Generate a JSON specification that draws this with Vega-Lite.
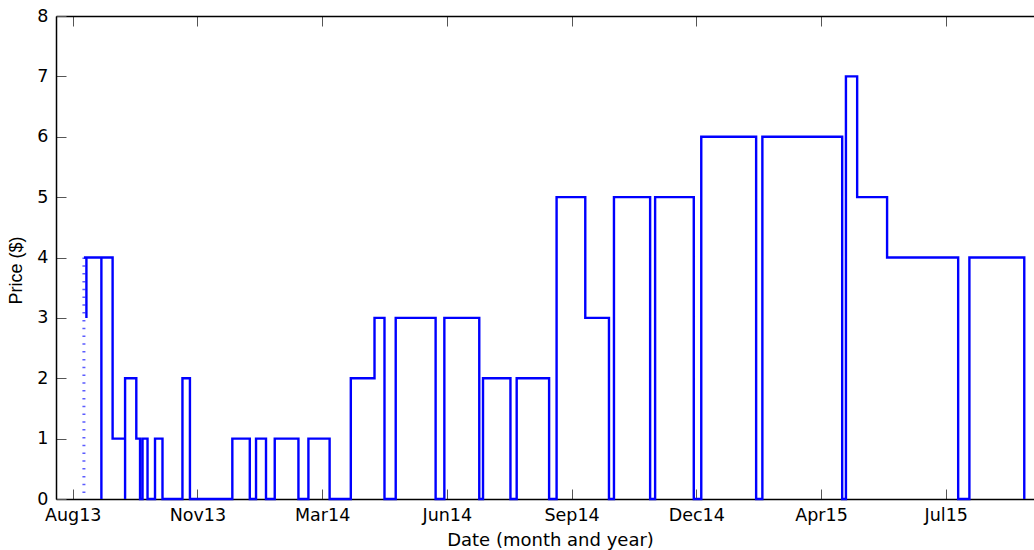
{
  "$schema": "https://vega.github.io/schema/vega-lite/v6.json",
  "width": 978,
  "height": 483,
  "autosize": {"type": "none"},
  "padding": {"left": 56, "top": 16, "right": 0, "bottom": 51},
  "background": "white",
  "config": {
    "view": {"stroke": null},
    "axis": {
      "grid": false,
      "domainColor": "#000000",
      "domainWidth": 1.5,
      "tickColor": "#555555",
      "tickWidth": 1,
      "tickSize": -10,
      "labelColor": "#000000",
      "labelFont": "DejaVu Sans",
      "labelFontSize": 17.5,
      "titleColor": "#000000",
      "titleFontWeight": "normal"
    }
  },
  "data": {
    "values": [
      {"series": "dotted", "date": "2013-08-25", "price": 4},
      {"series": "dotted", "date": "2013-08-25", "price": 0.1},
      {"series": "main", "date": "2013-08-25", "price": 4},
      {"series": "main", "date": "2013-08-27", "price": 3},
      {"series": "main", "date": "2013-08-27", "price": 4},
      {"series": "main", "date": "2013-09-08", "price": 0},
      {"series": "main", "date": "2013-09-08", "price": 4},
      {"series": "main", "date": "2013-09-17", "price": 1},
      {"series": "main", "date": "2013-09-27", "price": 0},
      {"series": "main", "date": "2013-09-27", "price": 2},
      {"series": "main", "date": "2013-10-06", "price": 1},
      {"series": "main", "date": "2013-10-09", "price": 0},
      {"series": "main", "date": "2013-10-11", "price": 1},
      {"series": "main", "date": "2013-10-15", "price": 0},
      {"series": "main", "date": "2013-10-21", "price": 1},
      {"series": "main", "date": "2013-10-27", "price": 0},
      {"series": "main", "date": "2013-11-12", "price": 2},
      {"series": "main", "date": "2013-11-18", "price": 0},
      {"series": "main", "date": "2013-12-22", "price": 1},
      {"series": "main", "date": "2014-01-05", "price": 0},
      {"series": "main", "date": "2014-01-10", "price": 1},
      {"series": "main", "date": "2014-01-18", "price": 0},
      {"series": "main", "date": "2014-01-25", "price": 1},
      {"series": "main", "date": "2014-02-13", "price": 0},
      {"series": "main", "date": "2014-02-21", "price": 1},
      {"series": "main", "date": "2014-03-10", "price": 0},
      {"series": "main", "date": "2014-03-27", "price": 2},
      {"series": "main", "date": "2014-04-15", "price": 3},
      {"series": "main", "date": "2014-04-23", "price": 0},
      {"series": "main", "date": "2014-05-02", "price": 3},
      {"series": "main", "date": "2014-06-03", "price": 0},
      {"series": "main", "date": "2014-06-10", "price": 3},
      {"series": "main", "date": "2014-07-08", "price": 0},
      {"series": "main", "date": "2014-07-11", "price": 2},
      {"series": "main", "date": "2014-08-02", "price": 0},
      {"series": "main", "date": "2014-08-07", "price": 2},
      {"series": "main", "date": "2014-09-02", "price": 0},
      {"series": "main", "date": "2014-09-08", "price": 5},
      {"series": "main", "date": "2014-10-01", "price": 3},
      {"series": "main", "date": "2014-10-20", "price": 0},
      {"series": "main", "date": "2014-10-24", "price": 5},
      {"series": "main", "date": "2014-11-22", "price": 0},
      {"series": "main", "date": "2014-11-26", "price": 5},
      {"series": "main", "date": "2014-12-27", "price": 0},
      {"series": "main", "date": "2015-01-02", "price": 6},
      {"series": "main", "date": "2015-02-15", "price": 0},
      {"series": "main", "date": "2015-02-20", "price": 6},
      {"series": "main", "date": "2015-04-25", "price": 0},
      {"series": "main", "date": "2015-04-28", "price": 7},
      {"series": "main", "date": "2015-05-07", "price": 5},
      {"series": "main", "date": "2015-05-31", "price": 4},
      {"series": "main", "date": "2015-07-27", "price": 0},
      {"series": "main", "date": "2015-08-05", "price": 4},
      {"series": "main", "date": "2015-09-18", "price": 0}
    ]
  },
  "layer": [
    {
      "transform": [{"filter": "datum.series === 'dotted'"}],
      "mark": {"type": "line", "color": "#5c5cff", "strokeWidth": 3, "strokeDash": [1.5, 6.3]},
      "encoding": {
        "x": {
          "field": "date", "type": "temporal",
          "scale": {"type": "utc", "domain": [
            {"year": 2013, "month": 8, "date": 2, "hours": 14, "minutes": 38, "utc": true},
            {"year": 2015, "month": 9, "date": 25, "hours": 19, "minutes": 12, "utc": true}
          ]},
          "axis": {
            "orient": "top", "labels": false, "title": null,
            "values": [
              {"year": 2013, "month": 8, "date": 16, "utc": true},
              {"year": 2013, "month": 11, "date": 24, "utc": true},
              {"year": 2014, "month": 3, "date": 4, "utc": true},
              {"year": 2014, "month": 6, "date": 12, "utc": true},
              {"year": 2014, "month": 9, "date": 20, "utc": true},
              {"year": 2014, "month": 12, "date": 29, "utc": true},
              {"year": 2015, "month": 4, "date": 8, "utc": true},
              {"year": 2015, "month": 7, "date": 17, "utc": true}
            ]
          }
        },
        "y": {"field": "price", "type": "quantitative", "scale": {"domain": [0, 8], "nice": false}, "axis": null},
        "order": {"value": null}
      }
    },
    {
      "transform": [{"filter": "datum.series === 'main'"}],
      "mark": {"type": "line", "interpolate": "step-after", "color": "#0000ff", "strokeWidth": 2.4, "strokeJoin": "miter"},
      "encoding": {
        "x": {
          "field": "date", "type": "temporal",
          "axis": {
            "orient": "bottom",
            "format": "%b%y",
            "labelPadding": 17,
            "labelFlush": false,
            "title": "Date (month and year)",
            "titleFont": "DejaVu Sans",
            "titleFontSize": 18,
            "titleAnchor": "start",
            "titleAlign": "center",
            "titleBaseline": "alphabetic",
            "titleX": 494,
            "titleY": 46,
            "values": [
              {"year": 2013, "month": 8, "date": 16, "utc": true},
              {"year": 2013, "month": 11, "date": 24, "utc": true},
              {"year": 2014, "month": 3, "date": 4, "utc": true},
              {"year": 2014, "month": 6, "date": 12, "utc": true},
              {"year": 2014, "month": 9, "date": 20, "utc": true},
              {"year": 2014, "month": 12, "date": 29, "utc": true},
              {"year": 2015, "month": 4, "date": 8, "utc": true},
              {"year": 2015, "month": 7, "date": 17, "utc": true}
            ]
          }
        },
        "y": {
          "field": "price", "type": "quantitative",
          "scale": {"domain": [0, 8], "nice": false},
          "axis": {
            "values": [0, 1, 2, 3, 4, 5, 6, 7, 8],
            "labelPadding": 18,
            "labelFlush": false,
            "title": "Price ($)",
            "titleFont": "Liberation Sans Narrow, Liberation Sans",
            "titleFontSize": 18,
            "titleAnchor": "start",
            "titleAlign": "center",
            "titleBaseline": "middle",
            "titleAngle": -90,
            "titleX": -40,
            "titleY": 254
          }
        },
        "order": {"value": null}
      }
    }
  ],
  "resolve": {"axis": {"x": "independent", "y": "independent"}}
}
